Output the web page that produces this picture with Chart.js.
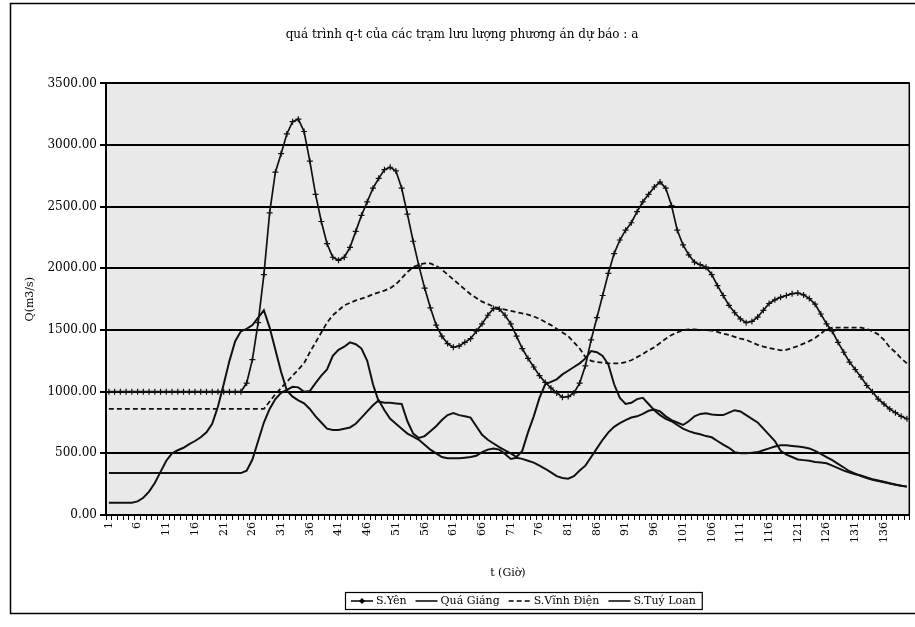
<!DOCTYPE html>
<html>
<head>
<meta charset="utf-8">
<script src="https://cdn.jsdelivr.net/npm/chart.js@4/dist/chart.umd.min.js"></script>
<style>
html, body { margin: 0; padding: 0; background: #fff; }
#wrap { width: 915px; height: 627px; }
</style>
</head>
<body>
<div id="wrap"><canvas id="chart" width="915" height="627"></canvas></div>
<script>
// hours 1..140
const hours = [
  1, 2, 3, 4, 5, 6, 7, 8, 9, 10, 11, 12, 13, 14, 15, 16, 17, 18, 19, 20,
  21, 22, 23, 24, 25, 26, 27, 28, 29, 30, 31, 32, 33, 34, 35, 36, 37, 38, 39, 40,
  41, 42, 43, 44, 45, 46, 47, 48, 49, 50, 51, 52, 53, 54, 55, 56, 57, 58, 59, 60,
  61, 62, 63, 64, 65, 66, 67, 68, 69, 70, 71, 72, 73, 74, 75, 76, 77, 78, 79, 80,
  81, 82, 83, 84, 85, 86, 87, 88, 89, 90, 91, 92, 93, 94, 95, 96, 97, 98, 99, 100,
  101, 102, 103, 104, 105, 106, 107, 108, 109, 110, 111, 112, 113, 114, 115, 116, 117, 118, 119, 120,
  121, 122, 123, 124, 125, 126, 127, 128, 129, 130, 131, 132, 133, 134, 135, 136, 137, 138, 139, 140
];
const xTickLabels = ['1', '6', '11', '16', '21', '26', '31', '36', '41', '46', '51', '56', '61', '66',
  '71', '76', '81', '86', '91', '96', '101', '106', '111', '116', '121', '126', '131', '136'];
const yTicks = [0, 500, 1000, 1500, 2000, 2500, 3000, 3500];

const songYen = [
  1000, 1000, 1000, 1000, 1000, 1000, 1000, 1000, 1000, 1000, 1000, 1000, 1000, 1000, 1000, 1000, 1000, 1000, 1000, 1000,
  1000, 1000, 1000, 1000, 1070, 1260, 1560, 1950, 2450, 2780, 2930, 3090, 3190, 3210, 3110, 2870, 2600, 2380, 2200, 2090,
  2065, 2090, 2170, 2300, 2430, 2540, 2650, 2730, 2800, 2820, 2790, 2650, 2440, 2220, 2020, 1840, 1680, 1540, 1450, 1390,
  1360, 1370, 1400, 1430, 1490, 1550, 1620, 1675, 1670, 1620, 1550, 1450, 1350, 1270, 1200, 1130, 1075, 1030, 990, 955,
  960, 990, 1070, 1210, 1420, 1600, 1780, 1960, 2120, 2230, 2310, 2370, 2460, 2540, 2600, 2660, 2700, 2650, 2510, 2310,
  2190, 2110, 2050, 2030, 2010, 1950, 1860, 1780, 1700, 1640, 1590, 1560, 1570, 1605, 1660, 1715, 1745, 1765, 1780, 1795,
  1800, 1785, 1755, 1710, 1630, 1550, 1490, 1400, 1320, 1240, 1180, 1120, 1050, 1000, 940, 900, 860, 830, 800, 780
];
const quaGiang = [
  340, 340, 340, 340, 340, 340, 340, 340, 340, 340, 340, 340, 340, 340, 340, 340, 340, 340, 340, 340,
  340, 340, 340, 340, 360, 450, 600, 750, 860, 940, 990, 1015, 1040, 1035, 1000, 1005, 1070, 1130, 1180, 1290,
  1340, 1365, 1400, 1385, 1350, 1250, 1060, 920, 910, 910, 905, 900, 760, 660, 625, 640, 680, 720, 770, 810,
  826, 810, 800, 790, 720, 650, 610, 580, 550, 525, 500, 470, 520, 670, 800, 950, 1060, 1080, 1100, 1140,
  1170, 1200, 1230, 1270, 1330, 1320, 1290, 1220, 1060, 950, 900, 910, 940, 950, 900, 850, 810, 780, 760, 730,
  700, 680, 665, 655, 640, 630, 600, 570, 545, 510, 500, 500, 505, 510, 525, 540, 555, 565, 565, 560,
  555, 550, 540, 520, 495, 470, 445, 415, 385, 355, 335, 315, 300, 285, 275, 265, 255, 245, 238, 230
];
const vinhDien = [
  860, 860, 860, 860, 860, 860, 860, 860, 860, 860, 860, 860, 860, 860, 860, 860, 860, 860, 860, 860,
  860, 860, 860, 860, 860, 860, 860, 860, 920, 980, 1030, 1080, 1130, 1180, 1230, 1320, 1400, 1480, 1560, 1620,
  1660, 1700, 1720, 1740, 1755, 1770, 1790, 1805, 1820, 1840, 1870, 1920, 1970, 2010, 2030, 2040, 2040, 2020, 1990, 1950,
  1910, 1870, 1830, 1790, 1760, 1730, 1710, 1690, 1675, 1665, 1655, 1645, 1635, 1625, 1610, 1590, 1565, 1540, 1510, 1480,
  1450, 1400, 1350, 1280, 1250, 1240, 1235, 1230, 1230, 1230, 1240, 1255, 1280, 1305, 1335, 1360, 1395, 1430, 1460, 1480,
  1500, 1505, 1505, 1500, 1500, 1495, 1485, 1470, 1460, 1445, 1430, 1420, 1400, 1380, 1365, 1355, 1345, 1335, 1340, 1355,
  1370, 1390, 1410, 1435, 1470, 1510, 1520, 1520, 1520, 1520, 1520, 1520, 1510, 1490, 1465, 1420, 1360, 1320, 1270, 1230
];
const tuyLoan = [
  100, 100, 100, 100, 100, 110, 140, 190, 260, 350, 440, 500, 525, 545, 575, 600, 630, 670, 740, 880,
  1060, 1250, 1410, 1490, 1510, 1540, 1600, 1660, 1520, 1340, 1160, 1010, 960, 930, 905, 860, 800, 750, 700, 690,
  690, 700, 710, 740, 790, 840, 890, 930, 850, 780, 740, 700, 660, 635, 610, 570, 530, 500, 470, 460,
  460, 460, 465, 470, 480, 510, 530, 540, 530, 495, 455, 465, 455, 440, 425, 400, 375, 345, 315, 300,
  295, 315, 360, 400, 470, 540, 610, 670, 715, 745, 770, 790, 800, 820, 845, 855, 840, 800, 770, 750,
  730, 760, 800, 820, 825, 815, 810, 810, 830, 850, 840, 810, 780, 750, 700, 650, 600, 520, 490, 470,
  450, 445, 440, 430, 425, 420, 400, 380, 360, 345, 330, 320, 305, 290, 280, 270, 258, 248, 238, 230
];

const seriesNames = ['S.Yên', 'Quá Giáng', 'S.Vĩnh Điện', 'S.Tuý Loan'];
const fontFam = "'DejaVu Serif', 'Liberation Serif', serif";

// grey plot area like the printed Excel chart
const plotBg = {
  id: 'plotBg',
  beforeDraw(chart) {
    const { ctx, chartArea: a } = chart;
    ctx.save();
    ctx.fillStyle = '#e9e9e9';
    ctx.fillRect(a.left, a.top, a.right - a.left, a.bottom - a.top);
    ctx.restore();
  }
};

// outer frame, plot right edge and the boxed legend
const frameAndLegend = {
  id: 'frameAndLegend',
  afterDraw(chart) {
    const { ctx, chartArea: a } = chart;
    ctx.save();
    ctx.strokeStyle = '#000';
    ctx.lineWidth = 1.5;
    ctx.strokeRect(10.5, 3.5, 912, 610);
    ctx.beginPath();
    ctx.moveTo(a.right - 0.5, a.top);
    ctx.lineTo(a.right - 0.5, a.bottom);
    ctx.stroke();

    // legend
    ctx.font = "11px " + fontFam;
    const sample = 22, gap = 3, itemGap = 9;
    let total = 0;
    const widths = seriesNames.map(n => ctx.measureText(n).width);
    widths.forEach(w => { total += sample + gap + w; });
    total += itemGap * (seriesNames.length - 1);
    const boxW = total + 12, boxH = 17;
    const boxX = Math.round(523 - boxW / 2), boxY = 592;
    ctx.lineWidth = 1.2;
    ctx.strokeRect(boxX + 0.5, boxY + 0.5, boxW, boxH);
    let x = boxX + 6;
    const cy = boxY + boxH / 2 + 0.5;
    ctx.textBaseline = 'middle';
    ctx.fillStyle = '#000';
    chart.data.datasets.forEach((ds, i) => {
      ctx.lineWidth = 1.5;
      ctx.setLineDash(ds.borderDash || []);
      ctx.beginPath();
      ctx.moveTo(x, cy);
      ctx.lineTo(x + sample, cy);
      ctx.stroke();
      ctx.setLineDash([]);
      if (ds.pointRadius) {
        ctx.beginPath();
        ctx.moveTo(x + sample / 2, cy - 3);
        ctx.lineTo(x + sample / 2 + 3, cy);
        ctx.lineTo(x + sample / 2, cy + 3);
        ctx.lineTo(x + sample / 2 - 3, cy);
        ctx.closePath();
        ctx.fill();
      }
      ctx.fillText(ds.label, x + sample + gap, cy);
      x += sample + gap + widths[i] + itemGap;
    });
    ctx.restore();
  }
};

new Chart(document.getElementById('chart'), {
  type: 'line',
  data: {
    labels: hours,
    datasets: [
      { label: seriesNames[0], data: songYen, borderColor: '#111', backgroundColor: '#111', borderWidth: 1.7,
        pointStyle: 'cross', pointRadius: 3, pointBorderWidth: 1.2, pointBorderColor: '#111', tension: 0 },
      { label: seriesNames[1], data: quaGiang, borderColor: '#111', borderWidth: 2, pointRadius: 0, tension: 0 },
      { label: seriesNames[2], data: vinhDien, borderColor: '#111', borderWidth: 1.8, borderDash: [5, 3], pointRadius: 0, tension: 0 },
      { label: seriesNames[3], data: tuyLoan, borderColor: '#111', borderWidth: 2, pointRadius: 0, tension: 0 }
    ]
  },
  options: {
    responsive: false,
    animation: false,
    devicePixelRatio: 1,
    layout: { padding: { left: 10, right: 1, top: 0, bottom: 45 } },
    plugins: {
      legend: { display: false },
      tooltip: { enabled: false },
      title: {
        display: true,
        text: 'quá trình q-t của các trạm lưu lượng phương án dự báo : a',
        color: '#000',
        font: { family: fontFam, size: 12, weight: 'normal' },
        padding: { top: 28, bottom: 41 }
      }
    },
    scales: {
      x: {
        type: 'category',
        offset: true,
        grid: { offset: true, drawOnChartArea: false, drawTicks: true, tickLength: 5, color: '#000', lineWidth: 1 },
        border: { color: '#000', width: 2 },
        ticks: {
          autoSkip: false, minRotation: 90, maxRotation: 90, padding: 2, color: '#000',
          font: { family: fontFam, size: 11 },
          callback: function (v) {
            const l = String(this.getLabelForValue(v));
            return xTickLabels.includes(l) ? l : '';
          }
        },
        title: { display: true, text: 't (Giờ)', color: '#000', font: { family: fontFam, size: 11 }, padding: { top: 0, bottom: 2 } },
        afterFit(s) { s.height = 67; s.paddingLeft = 0; s.paddingRight = 0; }
      },
      y: {
        min: 0,
        max: 3500,
        afterBuildTicks(s) { s.ticks = yTicks.map(v => ({ value: v })); },
        grid: { color: '#000', lineWidth: 2, tickLength: 6, drawTicks: true },
        border: { color: '#000', width: 2 },
        ticks: {
          padding: 3, color: '#000',
          font: { family: fontFam, size: 12 },
          callback: v => Number(v).toFixed(2)
        },
        title: { display: true, text: 'Q(m3/s)', color: '#000', font: { family: fontFam, size: 11 }, padding: { top: 14, bottom: 0 } },
        afterFit(s) { s.width = 96; }
      }
    }
  },
  plugins: [plotBg, frameAndLegend]
});
</script>
</body>
</html>
